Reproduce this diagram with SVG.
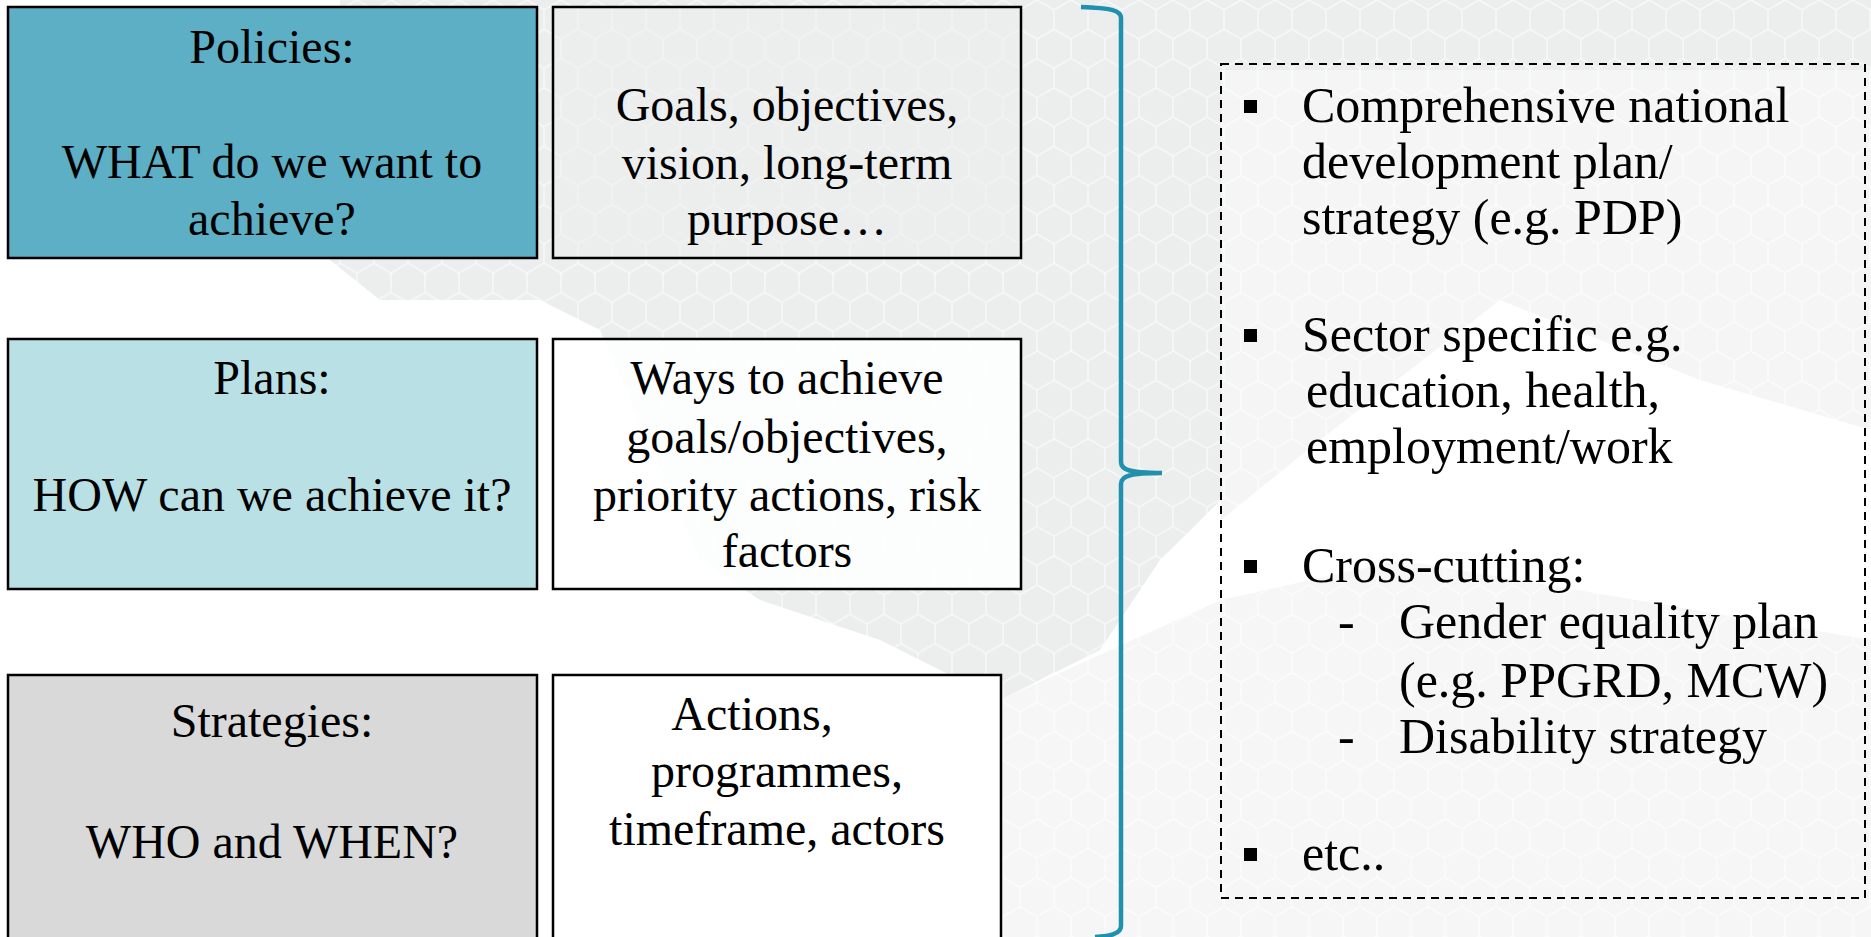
<svg xmlns="http://www.w3.org/2000/svg" width="1871" height="937" viewBox="0 0 1871 937">
<defs>
<pattern id="hex" width="34" height="58.5" patternUnits="userSpaceOnUse">
<rect width="34" height="58.5" fill="#ECEDED"/>
<path d="M17,0 L34,9.75 L34,29.25 L17,39 L0,29.25 L0,9.75 Z M17,39 L17,58.5" fill="none" stroke="#F7F8F8" stroke-width="1.6"/>
</pattern>
<style>
.box{stroke:#000;stroke-width:2.5}
.t{font-family:"Liberation Serif","Times New Roman",serif;font-size:48px;fill:#000;text-anchor:middle}
.r{font-family:"Liberation Serif","Times New Roman",serif;font-size:50px;fill:#000}
.bul{fill:#000}
</style>
</defs>
<rect width="1871" height="937" fill="#FFFFFF"/>
<g id="background">
<path d="M340,0 L1871,0 L1871,70 L1221,70 L1221,500 L1160,560 L1100,650 L1000,700 L880,640 L760,600 L700,560 L600,330 L540,300 L380,300 L330,260 Z" fill="url(#hex)"/>
<path d="M1221,70 L1871,70 L1871,430 L1700,380 L1500,300 L1320,440 L1221,520 Z" fill="url(#hex)" opacity="0.55"/>
<path d="M1000,700 L1221,600 L1400,560 L1871,640 L1871,937 L1000,937 Z" fill="url(#hex)" opacity="0.5"/>
</g>
<g id="connectors">
<path d="M1081,7 C1110,8 1121,10 1121,18 L1121,462 C1121,470 1130,473 1162,473 C1130,473 1121,476 1121,484 L1121,926 C1121,934 1110,936 1095,937" fill="none" stroke="#1F90AE" stroke-width="4.5"/>
</g>
<g id="policies">
<rect class="box" x="8" y="7" width="529" height="251" fill="#5CAFC4"/>
<text class="t" x="272" y="63">Policies:</text>
<text class="t" x="272" y="178">WHAT do we want to</text>
<text class="t" x="272" y="235">achieve?</text>
</g>
<g id="goals">
<rect class="box" x="553" y="7" width="468" height="251" fill="#EDEEEE" fill-opacity="0.6"/>
<text class="t" x="787" y="121">Goals, objectives,</text>
<text class="t" x="787" y="179">vision, long-term</text>
<text class="t" x="787" y="235">purpose…</text>
</g>
<g id="plans">
<rect class="box" x="8" y="339" width="529" height="250" fill="#B9E0E4"/>
<text class="t" x="272" y="394">Plans:</text>
<text class="t" x="272" y="511">HOW can we achieve it?</text>
</g>
<g id="ways">
<rect class="box" x="553" y="339" width="468" height="250" fill="#FFFFFF" fill-opacity="0.85"/>
<text class="t" x="787" y="394">Ways to achieve</text>
<text class="t" x="787" y="453">goals/objectives,</text>
<text class="t" x="787" y="511">priority actions, risk</text>
<text class="t" x="787" y="567">factors</text>
</g>
<g id="strategies">
<rect class="box" x="8" y="675" width="529" height="280" fill="#D9D9D9"/>
<text class="t" x="272" y="737">Strategies:</text>
<text class="t" x="272" y="858">WHO and WHEN?</text>
</g>
<g id="actions">
<rect class="box" x="553" y="675" width="448" height="280" fill="#FFFFFF"/>
<text class="t" x="752" y="730">Actions,</text>
<text class="t" x="777" y="787">programmes,</text>
<text class="t" x="777" y="845">timeframe, actors</text>
</g>
<g id="examples">
<rect x="1221" y="64" width="644" height="834" fill="none" stroke="#000" stroke-width="2" stroke-dasharray="8,6"/>
<rect class="bul" x="1244" y="100" width="13" height="13"/>
<text class="r" x="1302" y="122">Comprehensive national</text>
<text class="r" x="1302" y="178">development plan/</text>
<text class="r" x="1302" y="234">strategy (e.g. PDP)</text>
<rect class="bul" x="1244" y="329" width="13" height="13"/>
<text class="r" x="1302" y="351">Sector specific e.g.</text>
<text class="r" x="1306" y="407">education, health,</text>
<text class="r" x="1306" y="463">employment/work</text>
<rect class="bul" x="1244" y="560" width="13" height="13"/>
<text class="r" x="1302" y="582">Cross-cutting:</text>
<text class="r" x="1338" y="638">-</text>
<text class="r" x="1399" y="638">Gender equality plan</text>
<text class="r" x="1399" y="697">(e.g. PPGRD, MCW)</text>
<text class="r" x="1338" y="753">-</text>
<text class="r" x="1399" y="753">Disability strategy</text>
<rect class="bul" x="1244" y="848" width="13" height="13"/>
<text class="r" x="1302" y="870">etc..</text>
</g>
</svg>
